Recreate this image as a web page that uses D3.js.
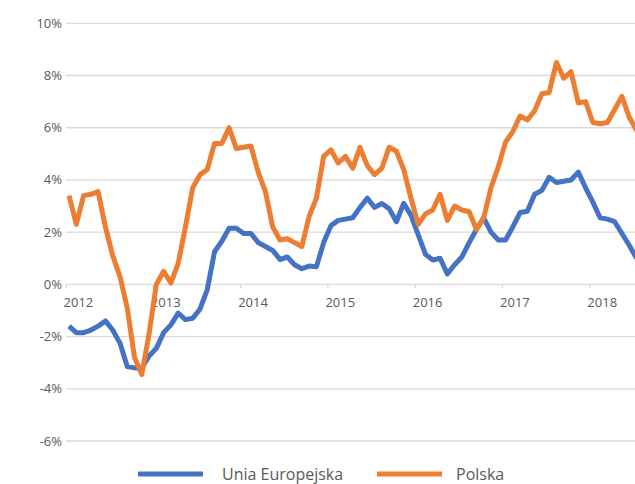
<!DOCTYPE html>
<html><head><meta charset="utf-8">
<script src="https://cdn.jsdelivr.net/npm/d3@7"></script>
<style>
html,body{margin:0;padding:0;background:#fff;}
svg{display:block;font-family:"Open Sans",sans-serif;}
</style></head>
<body><svg id="c" width="635" height="484"></svg>
<script>
const yearLabels = ["2012","2013","2014","2015","2016","2017","2018"];
const yTicks = [-6,-4,-2,0,2,4,6,8,10];
const seriesNames = ["Unia Europejska","Polska"];
// monthly values, Jan 2012 – Jul 2018 (%)
const euValues = [
 -1.6,-1.85,-1.85,-1.75,-1.6,-1.4,-1.75,-2.25,-3.15,-3.2,-3.2,-2.75,
 -2.45,-1.85,-1.55,-1.1,-1.35,-1.3,-0.95,-0.2,1.25,1.65,2.15,2.15,
 1.95,1.95,1.6,1.45,1.3,0.95,1.05,0.75,0.6,0.7,0.67,1.6,
 2.25,2.45,2.5,2.55,2.95,3.3,2.95,3.1,2.9,2.4,3.1,2.65,
 1.9,1.15,0.93,1.0,0.4,0.75,1.05,1.6,2.1,2.55,2.0,1.7,
 1.7,2.2,2.75,2.8,3.45,3.6,4.1,3.9,3.95,4.0,4.3,3.7,
 3.15,2.55,2.5,2.4,1.95,1.5,1.0
];
const plValues = [
 3.4,2.3,3.4,3.45,3.55,2.2,1.1,0.3,-0.9,-2.8,-3.45,-1.9,
 0.0,0.5,0.05,0.8,2.2,3.7,4.2,4.4,5.4,5.4,6.0,5.2,
 5.25,5.3,4.3,3.55,2.2,1.7,1.75,1.6,1.45,2.6,3.3,4.9,
 5.15,4.65,4.9,4.45,5.25,4.55,4.2,4.45,5.25,5.1,4.4,3.3,
 2.3,2.7,2.85,3.45,2.45,3.0,2.85,2.78,2.1,2.55,3.7,4.5,
 5.45,5.85,6.45,6.3,6.65,7.3,7.35,8.5,7.9,8.15,6.95,7.0,
 6.2,6.15,6.2,6.7,7.2,6.4,5.9
];
const months = d3.range(euValues.length);

const svg = d3.select("#c");
const x = d3.scaleLinear().domain([0, 84]).range([65.4, 65.4 + 7*87.3]);
const y = d3.scaleLinear().domain([-6, 10]).range([441, 23.3]);
const textColor = "#595959", gridColor = "#d9d9d9";

// gridlines
svg.append("g").selectAll("line").data(yTicks).join("line")
  .attr("x1", 66).attr("x2", 635)
  .attr("y1", d => y(d)).attr("y2", d => y(d))
  .attr("stroke", gridColor).attr("stroke-width", 1.3);

// y labels
svg.append("g").selectAll("text").data(yTicks).join("text")
  .attr("x", 62).attr("y", d => y(d)).attr("dy", "0.35em")
  .attr("text-anchor", "end").attr("font-size", 13).attr("fill", textColor)
  .text(d => d + "%");

// x axis at 0 with year ticks
const xAxis = d3.axisBottom(x)
  .tickValues(yearLabels.map((d,i) => i*12))
  .tickSize(4).tickFormat("");
const gx = svg.append("g").attr("transform", `translate(0,${y(0)})`).call(xAxis);
gx.select(".domain").remove();
gx.selectAll(".tick line").attr("stroke", gridColor).attr("stroke-width", 1.3);
svg.append("g").selectAll("text").data(yearLabels).join("text")
  .attr("x", (d,i) => x(i*12) + 13).attr("y", y(0) + 23)
  .attr("text-anchor", "middle").attr("font-size", 13).attr("fill", textColor)
  .text(d => d);

// lines
const line = vals => d3.line()
  .x((d,i) => x(months[i] + 0.5)).y(d => y(d))(vals);
const colors = ["#4472C4", "#ED7D31"];
[euValues, plValues].forEach((vals, k) => {
  svg.append("path").attr("d", line(vals))
    .attr("fill", "none").attr("stroke", colors[k]).attr("stroke-width", 5)
    .attr("stroke-linejoin", "round");
});

// legend
const legend = [
  {name: seriesNames[0], x1: 138, x2: 203, tx: 222, color: colors[0]},
  {name: seriesNames[1], x1: 377, x2: 442, tx: 456, color: colors[1]}
];
const ly = 474;
legend.forEach(l => {
  svg.append("line").attr("x1", l.x1).attr("x2", l.x2).attr("y1", ly).attr("y2", ly)
    .attr("stroke", l.color).attr("stroke-width", 5);
  svg.append("text").attr("x", l.tx).attr("y", ly).attr("dy", "0.35em")
    .attr("font-size", 16).attr("fill", textColor).text(l.name);
});
</script></body></html>
